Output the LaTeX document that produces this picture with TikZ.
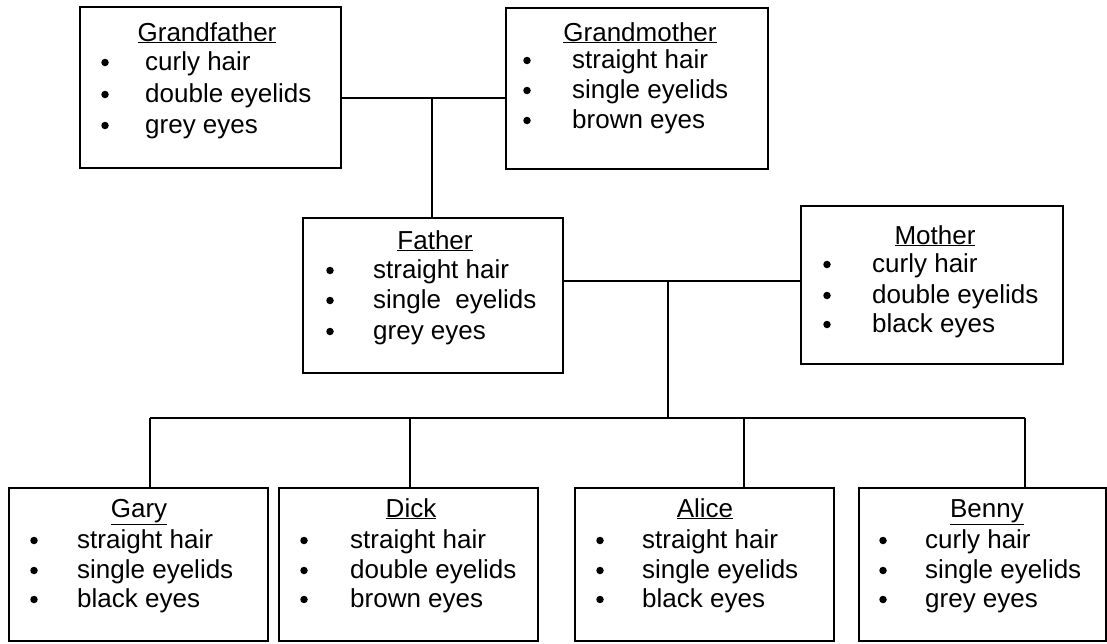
\documentclass[tikz,border=0pt]{standalone}
\usepackage{fontspec}
\setmainfont{Liberation Sans}
\newcommand\famrow[5]{%
  \node[dot] (#1b) at (#2,#4-7.5) {};
  \node[item] (#1t) at (#3,#4) {#5};}
\begin{document}
\begin{tikzpicture}[x=1pt,y=-1pt,
  box/.style={draw, line width=1.6pt, inner sep=0pt, anchor=north west},
  link/.style={line width=1.6pt},
  ttl/.style={anchor=base, inner sep=0pt, font=\fontsize{26}{30}\selectfont},
  item/.style={anchor=base west, inner sep=0pt, font=\fontsize{26}{30}\selectfont},
  dot/.style={circle, fill, inner sep=0pt, minimum size=7.5pt}]
\useasboundingbox[fill=white] (0,0) rectangle (1107,643);

% Grandfather
\node[box, minimum width=261pt, minimum height=161pt] (gf) at (79,6) {};
\node[ttl] (gft) at (207,41) {\underline{Grandfather}};
\famrow{gfa}{105}{145}{70}{curly hair}
\famrow{gfb}{105}{145}{102}{double eyelids}
\famrow{gfc}{105}{145}{133}{grey eyes}

% Grandmother
\node[box, minimum width=262pt, minimum height=161pt] (gm) at (505,7) {};
\node[ttl] (gmt) at (640,41) {\underline{Grandmother}};
\famrow{gma}{527}{572}{68}{straight hair}
\famrow{gmb}{527}{572}{98}{single eyelids}
\famrow{gmc}{527}{572}{128}{brown eyes}

% Father
\node[box, minimum width=260pt, minimum height=155pt] (fa) at (302,217) {};
\node[ttl] (fat) at (435,249) {\underline{Father}};
\famrow{faa}{330}{373}{278}{straight hair}
\famrow{fab}{330}{373}{308}{single\hspace{0.55em}eyelids}
\famrow{fac}{330}{373}{339}{grey eyes}

% Mother
\node[box, minimum width=262pt, minimum height=158pt] (mo) at (800,205) {};
\node[ttl] (mot) at (935,244) {\underline{Mother}};
\famrow{moa}{827}{872}{272}{curly hair}
\famrow{mob}{827}{872}{303}{double eyelids}
\famrow{moc}{827}{872}{332}{black eyes}

% Gary
\node[box, minimum width=259pt, minimum height=153pt] (ga) at (8,487) {};
\node[ttl] (gat) at (139,517) {\underline{Gary}};
\famrow{gaa}{34}{77}{548}{straight hair}
\famrow{gab}{34}{77}{578}{single eyelids}
\famrow{gac}{34}{77}{607}{black eyes}

% Dick
\node[box, minimum width=259pt, minimum height=153pt] (di) at (278,487) {};
\node[ttl] (dit) at (411,517) {\underline{Dick}};
\famrow{dia}{304}{350}{548}{straight hair}
\famrow{dib}{304}{350}{578}{double eyelids}
\famrow{dic}{304}{350}{607}{brown eyes}

% Alice
\node[box, minimum width=259pt, minimum height=153pt] (al) at (574,487) {};
\node[ttl] (alt) at (705,517) {\underline{Alice}};
\famrow{ala}{600}{642}{548}{straight hair}
\famrow{alb}{600}{642}{578}{single eyelids}
\famrow{alc}{600}{642}{607}{black eyes}

% Benny
\node[box, minimum width=247pt, minimum height=153pt] (be) at (858,487) {};
\node[ttl] (bet) at (987,517) {\underline{Benny}};
\famrow{bea}{883}{925}{548}{curly hair}
\famrow{beb}{883}{925}{578}{single eyelids}
\famrow{bec}{883}{925}{607}{grey eyes}

% connectors
\coordinate (gpj) at (432,98);
\draw[link] (gpj -| gf.east) -- (gpj -| gm.west);
\draw[link] (gpj) -- (gpj |- fa.north);
\coordinate (pj) at (668,281);
\draw[link] (pj -| fa.east) -- (pj -| mo.west);
\coordinate (k1) at (150,418);
\coordinate (k2) at (410,418);
\coordinate (k3) at (744,418);
\coordinate (k4) at (1025,418);
\draw[link] (pj) -- (pj |- k1);
\draw[link] (k1) -- (k4);
\draw[link] (k1) -- (k1 |- ga.north);
\draw[link] (k2) -- (k2 |- di.north);
\draw[link] (k3) -- (k3 |- al.north);
\draw[link] (k4) -- (k4 |- be.north);
\end{tikzpicture}
\end{document}
